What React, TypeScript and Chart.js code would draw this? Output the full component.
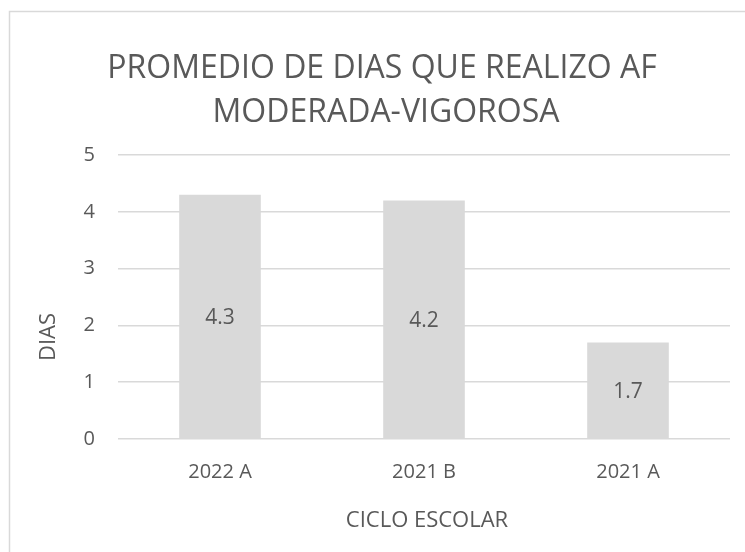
import React, { useEffect, useRef } from "react";
import { Chart, registerables } from "chart.js";

Chart.register(...registerables);

const categories = ["2022 A", "2021 B", "2021 A"];
const values = [4.3, 4.2, 1.7];
const valueLabels = ["4.3", "4.2", "1.7"];
const titleLines = ["PROMEDIO DE DIAS QUE REALIZO AF", "MODERADA-VIGOROSA"];
const yTitle = "DIAS";
const xTitle = "CICLO ESCOLAR";

const FONT = "'Open Sans', sans-serif";
const TEXT = "#595959";
const GRID = "#d9d9d9";

export default function App() {
  const ref = useRef<HTMLCanvasElement | null>(null);
  useEffect(() => {
    if (!ref.current) return;
    const textPlugin = {
      id: "texts",
      afterDraw(chart: any) {
        const ctx = chart.ctx;
        ctx.save();
        // frame
        ctx.strokeStyle = GRID;
        ctx.lineWidth = 1.5;
        ctx.beginPath();
        ctx.moveTo(9.5, 552);
        ctx.lineTo(9.5, 11.5);
        ctx.lineTo(745, 11.5);
        ctx.stroke();
        ctx.fillStyle = TEXT;
        // title
        ctx.font = `32px ${FONT}`;
        ctx.textAlign = "center";
        ctx.textBaseline = "alphabetic";
        ctx.fillText(titleLines[0], 382, 78);
        ctx.fillText(titleLines[1], 386, 122);
        // x title
        ctx.font = `22px ${FONT}`;
        ctx.fillText(xTitle, 427, 527);
        // y title
        ctx.save();
        ctx.translate(55, 337);
        ctx.rotate(-Math.PI / 2);
        ctx.fillText(yTitle, 0, 0);
        ctx.restore();
        // data labels
        ctx.font = `21px ${FONT}`;
        const meta = chart.getDatasetMeta(0);
        meta.data.forEach((bar: any, i: number) => {
          const mid = (bar.y + bar.base) / 2;
          ctx.fillText(valueLabels[i], bar.x, mid + 7.5);
        });
        ctx.restore();
      },
    };
    const chart = new Chart(ref.current, {
      type: "bar",
      data: {
        labels: categories,
        datasets: [
          {
            data: values,
            backgroundColor: GRID,
            borderWidth: 0,
            categoryPercentage: 1,
            barPercentage: 0.4,
          },
        ],
      },
      options: {
        animation: false,
        responsive: false,
        layout: { padding: { top: 155, right: 15, bottom: 0, left: 0 } },
        plugins: {
          legend: { display: false },
          title: { display: false },
          tooltip: { enabled: false },
        },
        scales: {
          x: {
            grid: { display: false, drawTicks: false },
            border: { display: false },
            ticks: { color: TEXT, font: { family: FONT, size: 20 }, padding: 21 },
            afterFit: (s: any) => {
              s.height = 113;
            },
          },
          y: {
            min: 0,
            max: 5,
            ticks: { stepSize: 1, color: TEXT, font: { family: FONT, size: 20 }, padding: 23 },
            grid: { color: GRID, lineWidth: 1.5, drawTicks: false },
            border: { display: false },
            afterFit: (s: any) => {
              s.width = 118;
            },
          },
        },
      },
      plugins: [textPlugin],
    });
    return () => chart.destroy();
  }, []);
  return (
    <div style={{ position: "absolute", left: 0, top: 0, width: 745, height: 552, background: "#fff" }}>
      <canvas ref={ref} width={745} height={552} style={{ display: "block" }} />
    </div>
  );
}
